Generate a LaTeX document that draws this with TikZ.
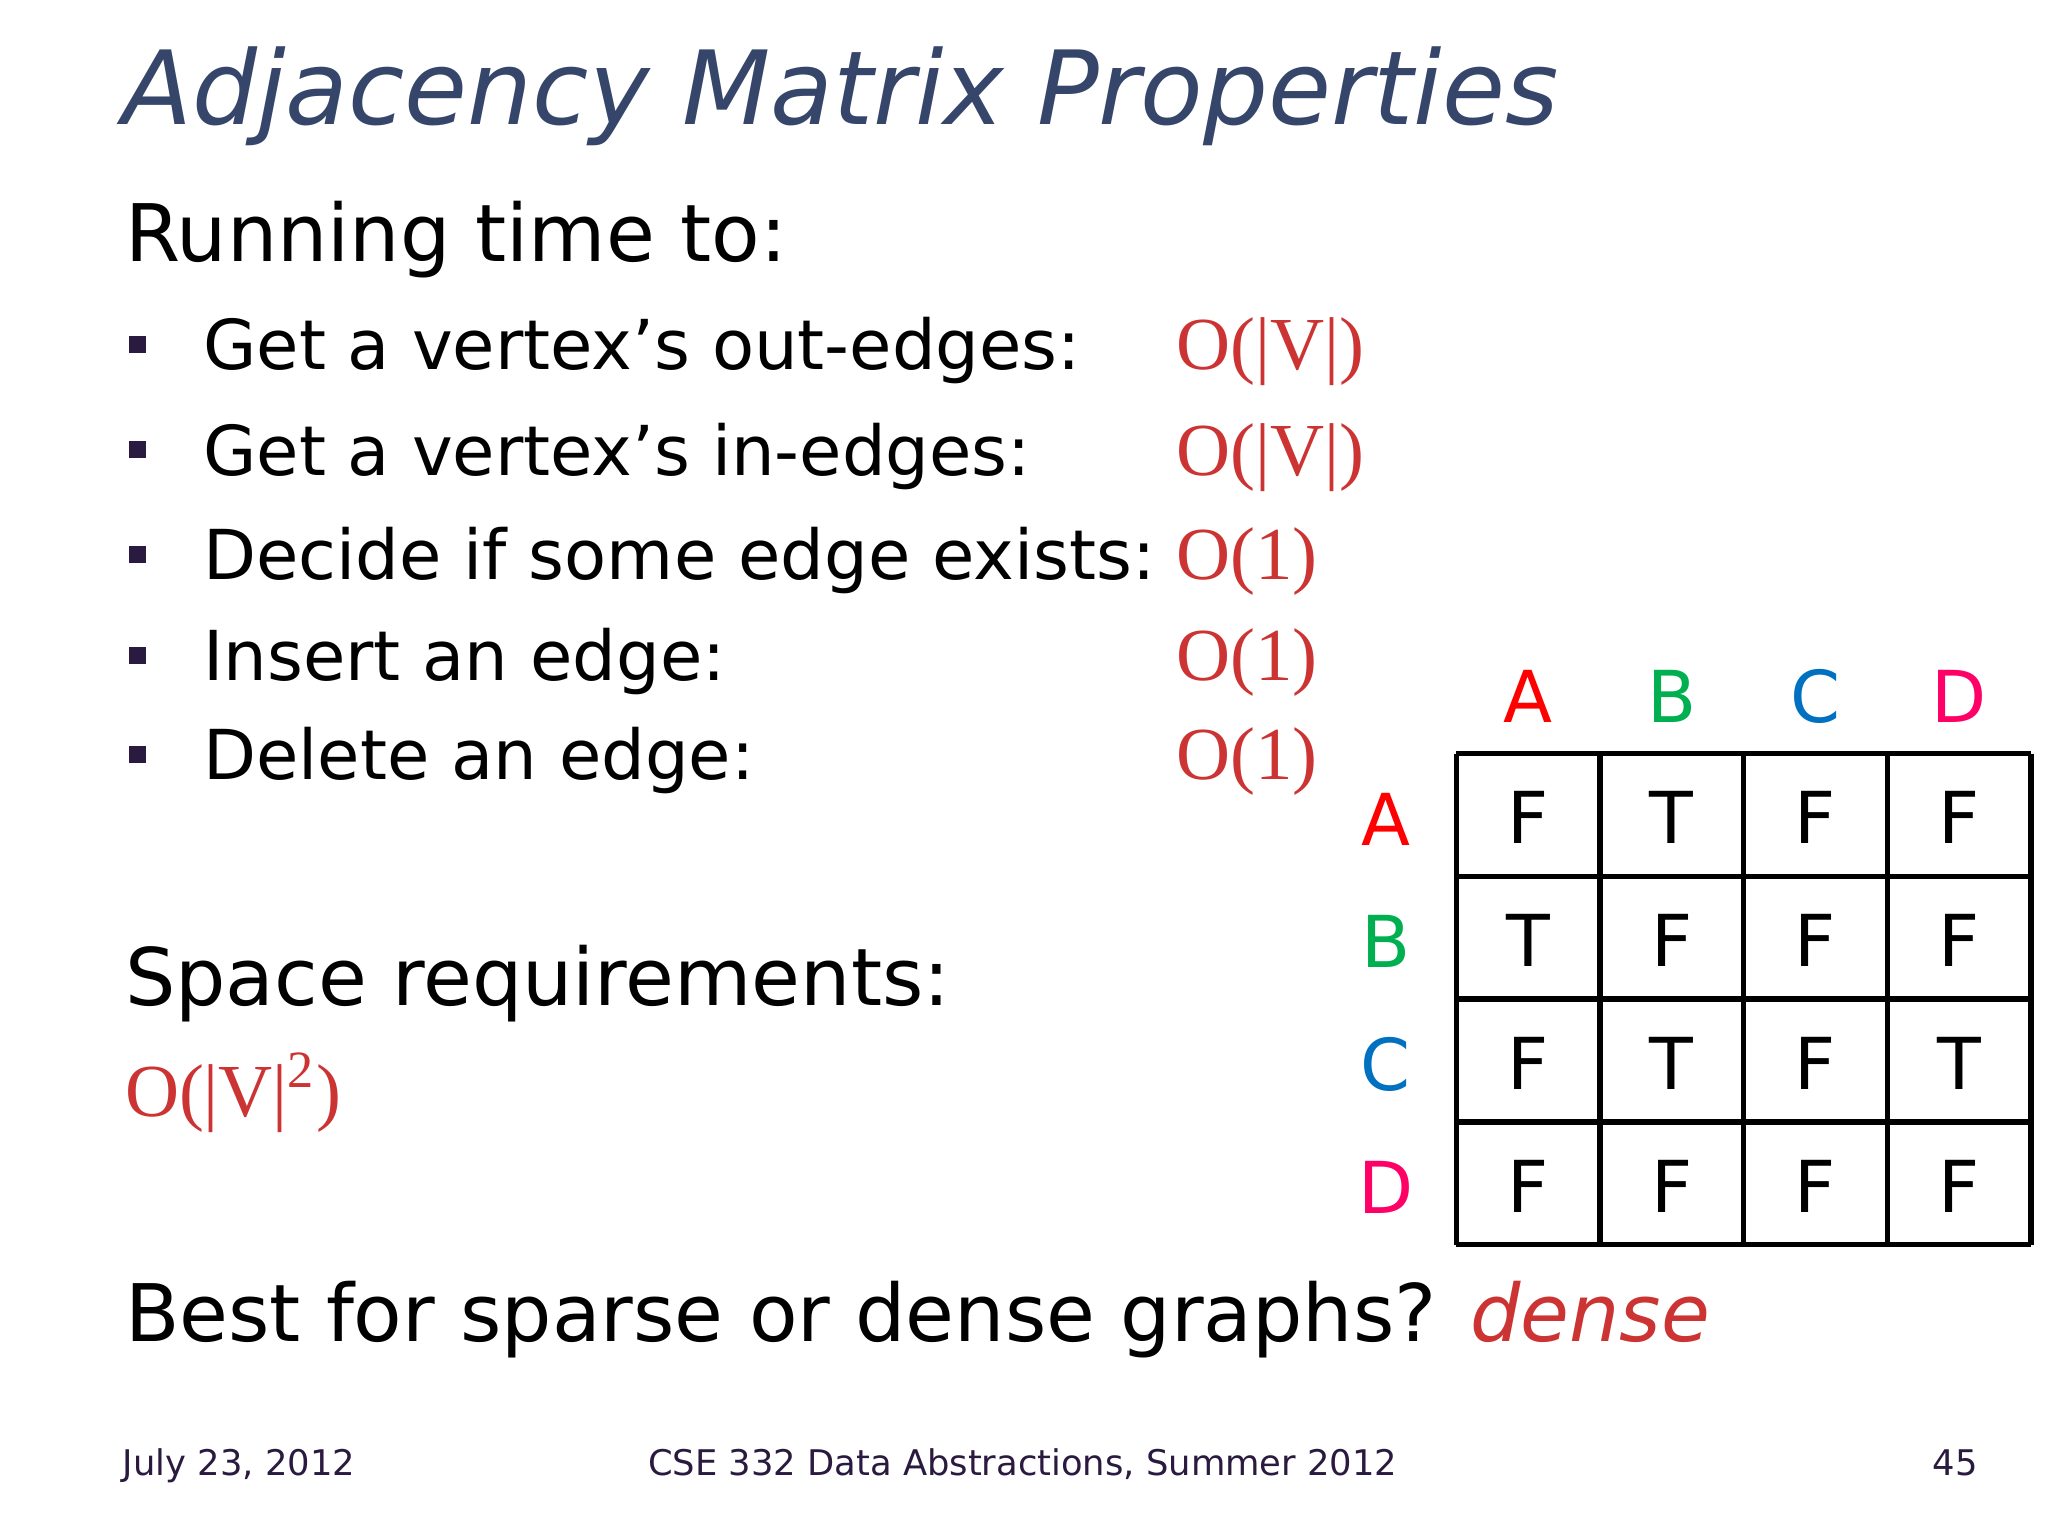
\documentclass[tikz,border=0pt]{standalone}
\usepackage{fontspec}
\setmainfont{DejaVu Sans}
\newfontfamily\serifo{Liberation Serif}
\definecolor{ttl}{HTML}{36466B}
\definecolor{ored}{HTML}{CC3333}
\definecolor{cA}{HTML}{FF0000}
\definecolor{cB}{HTML}{00B050}
\definecolor{cC}{HTML}{0070C0}
\definecolor{cD}{HTML}{FF0066}
\definecolor{bul}{HTML}{2B1A3F}
\tikzset{
 txt/.style={anchor=base west,inner sep=0pt,font=\fontsize{15}{18}\selectfont},
 cx/.style={txt,font=\fontsize{16.3}{20}\serifo,text=ored},
 big/.style={anchor=base west,inner sep=0pt,font=\fontsize{17.3}{20}\selectfont},
 cell/.style={anchor=center,inner sep=0pt,font=\fontsize{15.6}{18}\selectfont},
 foot/.style={anchor=base,inner sep=0pt,font=\fontsize{7.7}{9}\selectfont,text=bul},
 bsq/.style={fill=bul}
}
\begin{document}
\begin{tikzpicture}[y=-1cm]
\useasboundingbox (0,0) rectangle (15.68,11.76);
\node[anchor=base west,inner sep=0pt,text=ttl,font=\fontsize{22.3}{26}\selectfont\itshape] (title) at (0.93,0.95) {Adjacency Matrix Properties};
\node[big] (run) at (0.95,2.0) {Running time to:};
\foreach \y/\t/\c [count=\i] in {2.83/Get a vertex’s out-edges:/O(|V|),3.64/Get a vertex’s in-edges:/O(|V|),4.44/Decide if some edge exists:/O(1),5.21/Insert an edge:/O(1),5.97/Delete an edge:/O(1)}{
 \fill[bsq] (0.99,\y-0.26) rectangle ++(0.13,0.13);
 \node[txt] (b\i) at (1.55,\y) {\t};
 \node[cx] (c\i) at (9.0,\y) {\c};
}
\node[big] (space) at (0.95,7.70) {Space requirements:};
\node[cx] (sp) at (0.95,8.55) {O(|V|\textsuperscript{2})};
\node[big] (best) at (0.95,10.27) {Best for sparse or dense graphs? {\color{ored}\itshape dense}};
\node[foot] (f1) at (1.83,11.30) {July 23, 2012};
\node[foot] (f2) at (7.83,11.30) {CSE 332 Data Abstractions, Summer 2012};
\node[foot] (f3) at (14.97,11.30) {45};
% matrix
\foreach \l/\c [count=\i] in {A/cA,B/cB,C/cC,D/cD}{
 \node[cell,text=\c] (h\i) at ({11.7+1.1*(\i-1)},5.33) {\l};
 \node[cell,text=\c] (r\i) at (10.61,{6.27+0.94*(\i-1)}) {\l};
}
\foreach \r [count=\j] in {{F,T,F,F},{T,F,F,F},{F,T,F,T},{F,F,F,F}}{
 \foreach \v [count=\i] in \r {
  \node[cell] (m\j\i) at ({11.7+1.1*(\i-1)},{6.26+0.94*(\j-1)}) {\v};
 }
}
\foreach \k in {0,...,4}{
 \draw[line width=1.2pt] ({11.15+1.1*\k},5.77) -- ({11.15+1.1*\k},9.53);
 \draw[line width=1.2pt] (11.15,{5.77+0.94*\k}) -- (15.55,{5.77+0.94*\k});
}
\end{tikzpicture}
\end{document}
